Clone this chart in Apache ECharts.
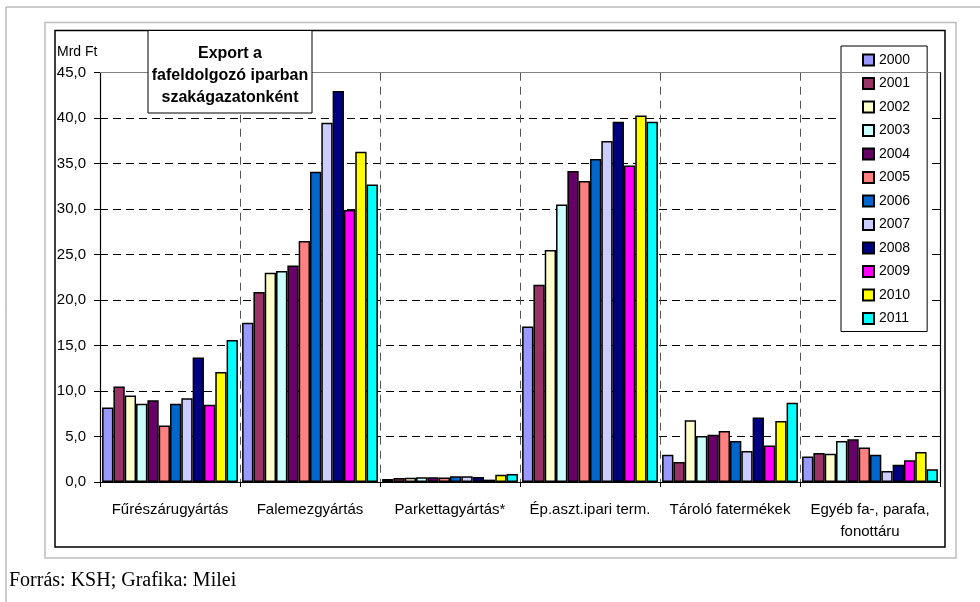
<!DOCTYPE html>
<html>
<head>
<meta charset="utf-8">
<script src="https://cdn.jsdelivr.net/npm/echarts@6/dist/echarts.min.js"></script>
<style>html,body{margin:0;padding:0;background:#fff}#c{width:980px;height:602px}</style>
</head>
<body>
<div id="c"></div>
<script>
var categories = ['Fűrészárugyártás', 'Falemezgyártás', 'Parkettagyártás*', 'Ép.aszt.ipari term.', 'Tároló fatermékek', 'Egyéb fa-, parafa,\nfonottáru'];
var years = ['2000','2001','2002','2003','2004','2005','2006','2007','2008','2009','2010','2011'];
var fureszaru = [8.2, 10.5, 9.5, 8.6, 9.0, 6.2, 8.6, 9.2, 13.7, 8.5, 12.1, 15.6];
var falemez   = [17.5, 20.9, 23.0, 23.2, 23.8, 26.5, 34.1, 39.5, 43.0, 29.9, 36.3, 32.7];
var parketta  = [0.33, 0.44, 0.48, 0.51, 0.51, 0.5, 0.62, 0.62, 0.55, 0.26, 0.8, 0.88];
var epaszt    = [17.1, 21.7, 25.5, 30.5, 34.2, 33.1, 35.5, 37.5, 39.6, 34.8, 40.3, 39.6];
var tarolo    = [3.0, 2.2, 6.8, 5.05, 5.2, 5.6, 4.5, 3.4, 7.1, 4.0, 6.7, 8.7];
var egyeb     = [2.8, 3.2, 3.1, 4.5, 4.7, 3.8, 3.0, 1.2, 1.9, 2.4, 3.3, 1.4];
var colors = ['#9999FF','#993366','#FFFFCC','#CCFFFF','#660066','#FF8080','#0066CC','#CCCCFF','#000080','#FF00FF','#FFFF00','#00FFFF'];
var yTicks = {min: 0, max: 45, interval: 5};

var groups = [fureszaru, falemez, parketta, epaszt, tarolo, egyeb];
var series = years.map(function (y, i) {
  var s = {
    name: y,
    type: 'bar',
    data: groups.map(function (g) { return g[i]; }),
    itemStyle: {color: colors[i], borderColor: '#000', borderWidth: 1.5},
    barGap: '0%',
    barCategoryGap: '3%',
    emphasis: {disabled: true}
  };
  if (i === 0) {
    s.markLine = {
      silent: true, symbol: 'none', label: {show: false},
      lineStyle: {color: '#808080', type: 'solid', width: 1},
      data: [{yAxis: yTicks.max}]
    };
  }
  return s;
});

var chart = echarts.init(document.getElementById('c'), null, {renderer: 'canvas'});
chart.setOption({
  animation: false,
  backgroundColor: '#fff',
  color: colors,
  textStyle: {fontFamily: 'Liberation Sans, Arial, sans-serif'},
  grid: {left: 100, right: 40, top: 72.7, bottom: 120},
  legend: {
    orient: 'vertical', left: 841, top: 46,
    padding: [7, 17, 6, 21],
    itemWidth: 11, itemHeight: 11, itemGap: 9.5,
    icon: 'rect',
    borderColor: '#000', borderWidth: 1, backgroundColor: '#fff',
    textStyle: {fontSize: 14, color: '#000', lineHeight: 14, fontFamily: 'Liberation Sans, Arial'},
    data: years
  },
  xAxis: {
    type: 'category',
    data: categories,
    axisLine: {lineStyle: {color: '#000', width: 1.2}},
    axisTick: {show: true, length: 5, lineStyle: {color: '#000'}},
    axisLabel: {interval: 0, margin: 17, fontSize: 15, color: '#000', lineHeight: 22, fontFamily: 'Liberation Sans, Arial'},
    splitLine: {show: true, interval: 0, lineStyle: {color: '#555', type: [8, 6], width: 1}}
  },
  yAxis: [{
    type: 'value',
    min: yTicks.min, max: yTicks.max, interval: yTicks.interval,
    axisLine: {show: true, lineStyle: {color: '#000', width: 1.2}},
    axisTick: {show: true, length: 6, lineStyle: {color: '#000'}},
    axisLabel: {margin: 14, fontSize: 15, color: '#000', fontFamily: 'Liberation Sans, Arial',
      formatter: function (v) { return v.toFixed(1).replace('.', ','); }},
    splitLine: {show: true, lineStyle: {color: '#000', type: [8, 5], width: 1}}
  }, {
    type: 'value', position: 'right',
    min: yTicks.min, max: yTicks.max, interval: yTicks.interval,
    axisLine: {show: true, lineStyle: {color: '#000', width: 1.2}},
    axisTick: {show: false}, axisLabel: {show: false}, splitLine: {show: false}
  }],
  series: series,
  graphic: [
    {type: 'line', silent: true, z: 0, shape: {x1: 6, y1: 7, x2: 980, y2: 7}, style: {stroke: '#999', lineWidth: 1}},
    {type: 'line', silent: true, z: 0, shape: {x1: 6, y1: 7, x2: 6, y2: 602}, style: {stroke: '#999', lineWidth: 1}},
    {type: 'rect', silent: true, z: -1, shape: {x: 45, y: 22.5, width: 911, height: 535.5}, style: {fill: 'none', stroke: '#bdbdbd', lineWidth: 1.5}},
    {type: 'rect', silent: true, z: -1, shape: {x: 55, y: 30.5, width: 890, height: 516.5}, style: {fill: 'none', stroke: '#000', lineWidth: 1.5}},
    {type: 'text', silent: true, z: 50, left: 57, top: 45, style: {text: 'Mrd Ft', font: '14px "Liberation Sans", Arial', fill: '#000'}},
    {type: 'rect', silent: true, z: 100, shape: {x: 148, y: 30.5, width: 164, height: 82.5}, style: {fill: '#fff', stroke: '#000', lineWidth: 1}},
    {type: 'text', silent: true, z: 101, x: 230, y: 43, style: {text: 'Export a\nfafeldolgozó iparban\nszakágazatonként', font: 'bold 16px "Liberation Sans", Arial', fill: '#000', align: 'center', lineHeight: 22}},
    {type: 'text', silent: true, z: 50, left: 9, top: 571, style: {text: 'Forrás: KSH; Grafika: Milei', font: '20px "Liberation Serif", "Times New Roman", serif', fill: '#000'}}
  ]
});
</script>
</body>
</html>
